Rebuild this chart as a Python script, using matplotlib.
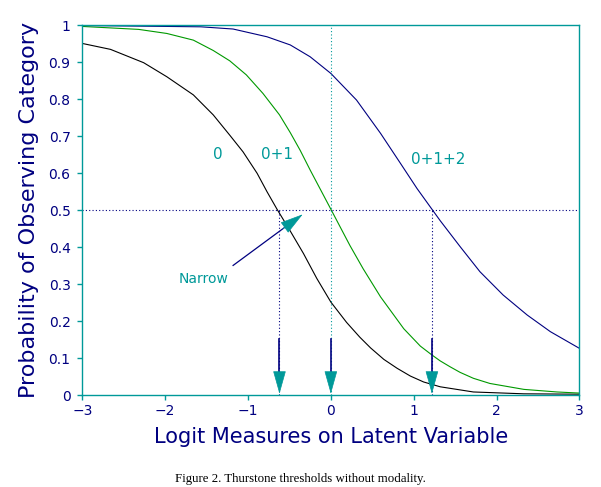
import matplotlib.pyplot as plt

# cumulative category curves
x_c0 = [-3, -2.66, -2.26, -1.98, -1.66, -1.42, -1.22, -1.06, -0.89, -0.77, -0.65,
        -0.49, -0.33, -0.17, 0.0, 0.19, 0.35, 0.48, 0.64, 0.80, 0.96, 1.12, 1.32,
        1.72, 2.33, 3.0]
p_c0 = [0.951, 0.935, 0.899, 0.861, 0.812, 0.758, 0.703, 0.658, 0.600, 0.550, 0.503,
        0.444, 0.383, 0.316, 0.252, 0.197, 0.157, 0.128, 0.097, 0.073, 0.052, 0.036,
        0.023, 0.009, 0.004, 0.003]

x_c01 = [-3, -2.32, -1.98, -1.66, -1.42, -1.22, -1.02, -0.82, -0.62, -0.49, -0.37,
         -0.25, 0.0, 0.23, 0.39, 0.60, 0.88, 1.08, 1.22, 1.32, 1.44, 1.56, 1.72,
         1.92, 2.33, 2.73, 3.0]
p_c01 = [0.997, 0.989, 0.978, 0.960, 0.932, 0.904, 0.866, 0.816, 0.758, 0.710, 0.662,
         0.609, 0.503, 0.405, 0.342, 0.266, 0.180, 0.133, 0.109, 0.093, 0.077, 0.062,
         0.046, 0.032, 0.016, 0.009, 0.006]

x_c012 = [-3, -1.57, -1.18, -0.77, -0.49, -0.25, 0.0, 0.31, 0.60, 0.84, 1.04, 1.22,
          1.32, 1.56, 1.80, 2.08, 2.37, 2.65, 3.0]
p_c012 = [0.9995, 0.996, 0.990, 0.969, 0.947, 0.915, 0.870, 0.798, 0.708, 0.627, 0.559,
          0.503, 0.472, 0.402, 0.334, 0.271, 0.217, 0.172, 0.127]

thresholds = [-0.62, 0.0, 1.22]
curve_labels = ['0', '0+1', '0+1+2']
label_pos = [(-1.36, 0.65), (-0.65, 0.65), (1.29, 0.636)]

teal = '#009999'
navy = '#000080'

fig = plt.figure(figsize=(6.01, 4.87), dpi=100)
ax = fig.add_axes([0.137, 0.1883, 0.827, 0.7597])

ax.plot(x_c0, p_c0, c='black', lw=0.8)
ax.plot(x_c01, p_c01, c='#009900', lw=0.8)
ax.plot(x_c012, p_c012, c=navy, lw=0.8)

# reference lines at p = 0.5 and the thresholds
ax.axhline(0.5, c=navy, ls=(0, (1, 2)), lw=0.8)
for t in thresholds:
    if t == 0:
        ax.plot([t, t], [0, 1], c=teal, ls=(0, (1, 2)), lw=0.8)
    else:
        ax.plot([t, t], [0, 0.5], c=navy, ls=(0, (1, 2)), lw=0.8)
    # arrow shaft and head
    ax.plot([t, t], [0.152, 0.055], c=navy, lw=1.2)
    ax.annotate('', xy=(t, 0.004), xytext=(t, 0.062),
                arrowprops=dict(arrowstyle='-|>,head_length=1.5,head_width=0.42',
                                color=teal, lw=0.5, shrinkA=0, shrinkB=0))

for lab, (lx, ly) in zip(curve_labels, label_pos):
    ax.text(lx, ly, lab, color=teal, fontsize=11, ha='center', va='center')

ax.text(-1.54, 0.313, 'Narrow', color=teal, fontsize=10, ha='center', va='center')
ax.plot([-1.18, -0.55], [0.351, 0.455], c=navy, lw=0.9)
ax.annotate('', xy=(-0.34, 0.489), xytext=(-0.58, 0.45),
            arrowprops=dict(arrowstyle='-|>,head_length=1.5,head_width=0.42',
                            color=teal, lw=0.5, shrinkA=0, shrinkB=0))

ax.set_xlim(-3, 3)
ax.set_ylim(0, 1)
ax.set_xticks(range(-3, 4))
ax.set_yticks([i / 10 for i in range(11)])
ax.set_yticklabels(['0'] + [f'0.{i}' for i in range(1, 10)] + ['1'])

for s in ax.spines.values():
    s.set_color(teal)
    s.set_linewidth(1)
ax.tick_params(colors=teal, labelcolor=navy, labelsize=10, length=3.5, width=1)
ax.tick_params(axis='y', pad=5)
ax.tick_params(axis='x', pad=3)

ax.set_xlabel('Logit Measures on Latent Variable', color=navy, fontsize=15, labelpad=6)
ax.set_ylabel('Probability of Observing Category', color=navy, fontsize=16, labelpad=7)

fig.text(0.5, 0.0164, 'Figure 2. Thurstone thresholds without modality.',
         family='Liberation Serif', fontsize=9.3, ha='center', va='center')

fig.savefig('out.png', dpi=100)
